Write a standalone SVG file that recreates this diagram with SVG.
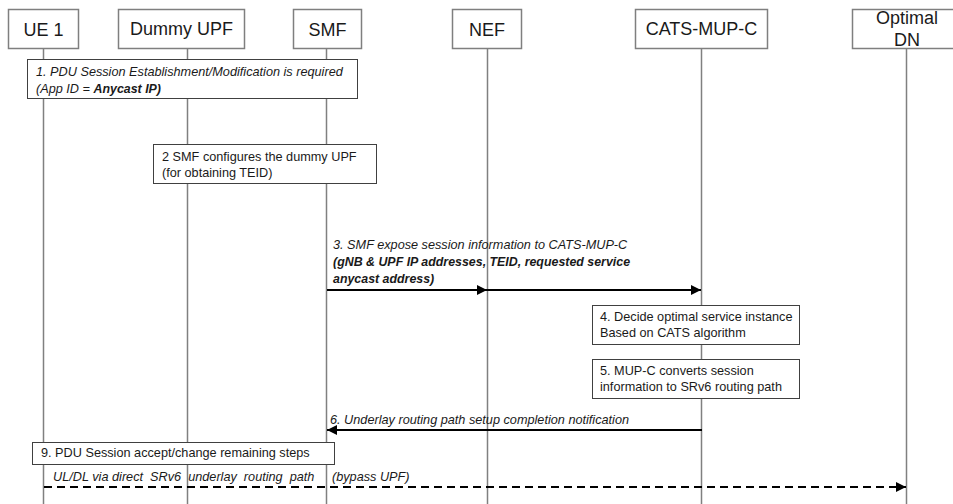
<svg xmlns="http://www.w3.org/2000/svg" width="953" height="504" viewBox="0 0 953 504">
  <style>
    .hdr { fill: #fff; stroke: #7f7f7f; stroke-width: 1.5; }
    .hdr-t { font-family: "Liberation Sans", Arial, sans-serif; font-size: 18px; fill: #1a1a1a; text-anchor: middle; }
    .life { stroke: #808080; stroke-width: 1.5; }
    .note { fill: #fff; stroke: #404040; stroke-width: 1; }
    .t { font-family: "Liberation Sans", Arial, sans-serif; font-size: 12.7px; fill: #1a1a1a; }
    .it { font-style: italic; }
    .b { font-weight: bold; font-size: 12.4px; }
    .msg { stroke: #000; stroke-width: 2; fill: none; }
    .dash { stroke: #000; stroke-width: 2; fill: none; stroke-dasharray: 8 5; }
  </style>
  <defs>
    <marker id="ah" viewBox="0 0 10 10" refX="10" refY="5" markerWidth="5" markerHeight="5" orient="auto-start-reverse" markerUnits="strokeWidth">
      <path d="M0,0 L10,5 L0,10 z" fill="#000"/>
    </marker>
  </defs>
  <rect width="953" height="504" fill="#fff"/>

  <!-- lifelines -->
  <g id="lifelines">
    <line class="life" x1="43.5" y1="49" x2="43.5" y2="504"/>
    <line class="life" x1="187.5" y1="49" x2="187.5" y2="504"/>
    <line class="life" x1="326.5" y1="49" x2="326.5" y2="504"/>
    <line class="life" x1="487.5" y1="49" x2="487.5" y2="504"/>
    <line class="life" x1="701.5" y1="49" x2="701.5" y2="504"/>
    <line class="life" x1="906.5" y1="49" x2="906.5" y2="504"/>
  </g>

  <!-- participants -->
  <g id="ue1">
    <rect class="hdr" x="8.5" y="9.5" width="70" height="39"/>
    <text class="hdr-t" x="43.5" y="35.5">UE 1</text>
  </g>
  <g id="dummy-upf">
    <rect class="hdr" x="118.5" y="9.5" width="126" height="39"/>
    <text class="hdr-t" x="181.5" y="34.5">Dummy UPF</text>
  </g>
  <g id="smf">
    <rect class="hdr" x="293.5" y="9.5" width="68" height="39"/>
    <text class="hdr-t" x="327.5" y="35.5">SMF</text>
  </g>
  <g id="nef">
    <rect class="hdr" x="452.5" y="9.5" width="69" height="39"/>
    <text class="hdr-t" x="487" y="35.5">NEF</text>
  </g>
  <g id="cats-mup-c">
    <rect class="hdr" x="635.5" y="9.5" width="132" height="39"/>
    <text class="hdr-t" x="701.5" y="34.5">CATS-MUP-C</text>
  </g>
  <g id="optimal-dn">
    <rect class="hdr" x="852.5" y="9.5" width="104" height="39"/>
    <text class="hdr-t" x="907" y="24">Optimal</text>
    <text class="hdr-t" x="907" y="46">DN</text>
  </g>

  <!-- step notes -->
  <g id="step1">
    <rect class="note" x="27.5" y="59.5" width="330" height="39"/>
    <text class="t it" x="36" y="76">1. PDU Session Establishment/Modification is required</text>
    <text class="t it" x="36" y="93">(App ID = <tspan class="b">Anycast IP)</tspan></text>
  </g>
  <g id="step2">
    <rect class="note" x="153.5" y="144.5" width="223" height="39"/>
    <text class="t" x="162" y="161">2  SMF configures the dummy UPF</text>
    <text class="t" x="162" y="177">(for obtaining TEID)</text>
  </g>
  <g id="step4">
    <rect class="note" x="592.5" y="305.5" width="207" height="39"/>
    <text class="t" x="600" y="321">4. Decide optimal service instance</text>
    <text class="t" x="600" y="337">Based on CATS algorithm</text>
  </g>
  <g id="step5">
    <rect class="note" x="592.5" y="359.5" width="207" height="39"/>
    <text class="t" x="600" y="375">5. MUP-C converts session</text>
    <text class="t" x="600" y="391">information to SRv6 routing path</text>
  </g>
  <g id="step9">
    <rect class="note" x="32.5" y="442.5" width="302" height="22"/>
    <text class="t" x="41" y="457">9. PDU Session accept/change remaining steps</text>
  </g>

  <!-- messages -->
  <g id="connectors">
    <line class="msg" x1="327" y1="290" x2="487" y2="290" marker-end="url(#ah)"/>
    <line class="msg" x1="487" y1="290" x2="701" y2="290" marker-end="url(#ah)"/>
    <line class="msg" x1="702" y1="430" x2="327" y2="430" marker-end="url(#ah)"/>
    <line class="dash" x1="44" y1="487" x2="906" y2="487" marker-end="url(#ah)"/>
  </g>

  <!-- message labels -->
  <g id="labels">
    <text class="t it" x="333" y="249">3. SMF expose session information to CATS-MUP-C</text>
    <text class="t it b" x="333" y="266">(gNB &amp; UPF IP addresses, TEID, requested service</text>
    <text class="t it b" x="333" y="283">anycast address)</text>
    <text class="t it" x="330" y="424">6. Underlay routing path setup completion notification</text>
    <text class="t it" x="53" y="481" xml:space="preserve">UL/DL via direct  SRv6  underlay  routing  path</text>
    <text class="t it" x="332" y="481">(bypass UPF)</text>
  </g>
</svg>
